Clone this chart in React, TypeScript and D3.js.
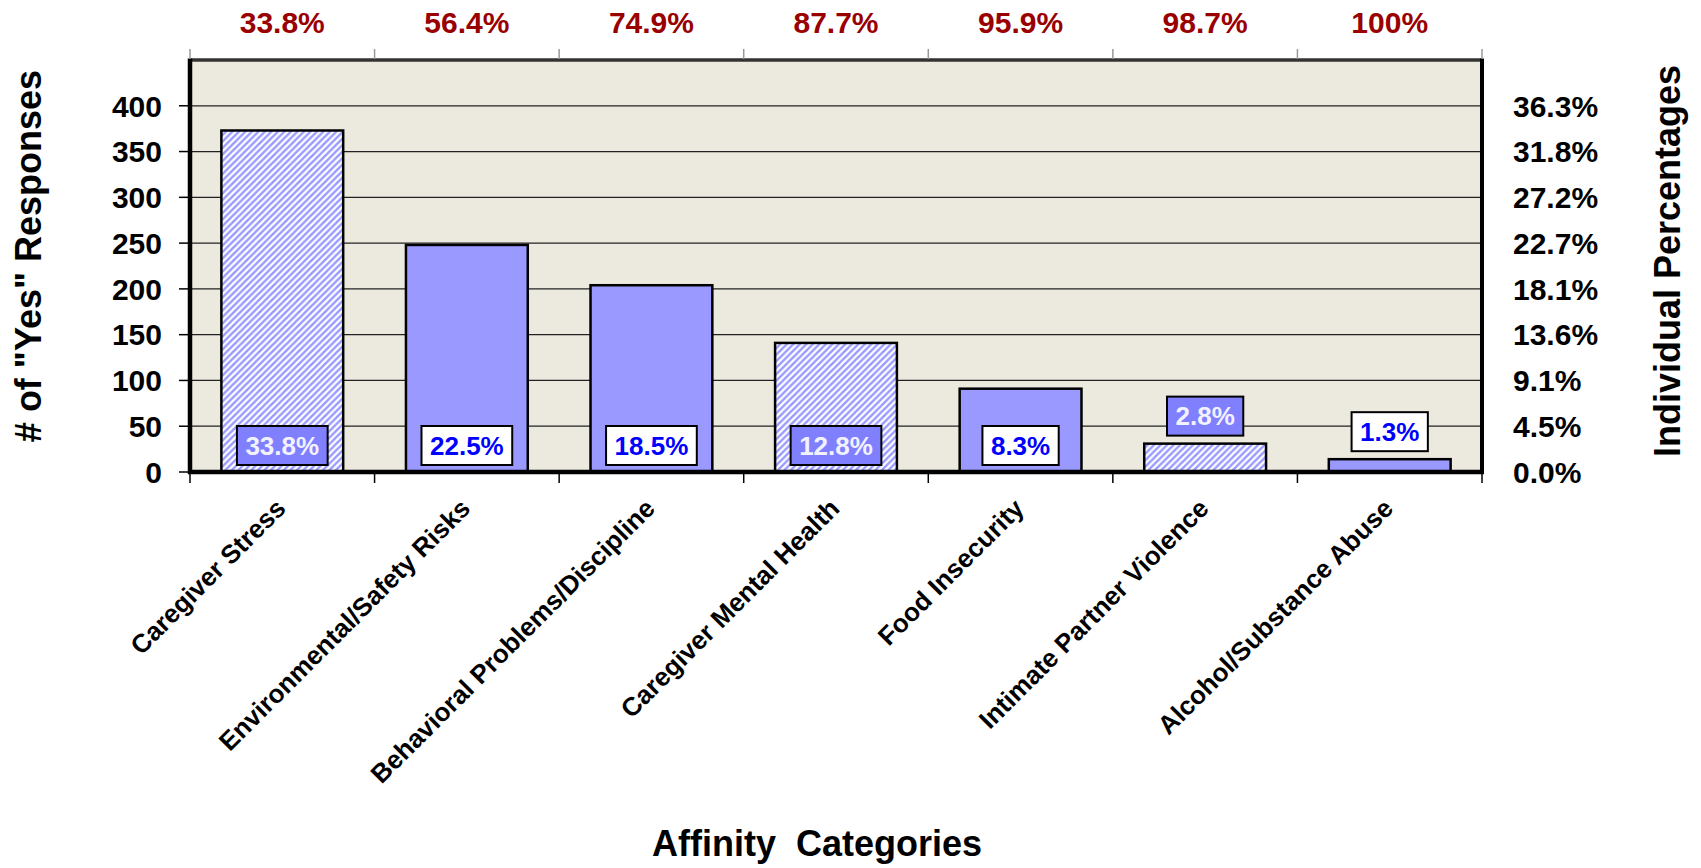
import React, { useEffect, useRef } from 'react';
import * as d3 from 'd3';

const categories = [
  'Caregiver Stress',
  'Environmental/Safety Risks',
  'Behavioral Problems/Discipline',
  'Caregiver Mental Health',
  'Food Insecurity',
  'Intimate Partner Violence',
  'Alcohol/Substance Abuse',
];
const counts = [373, 248, 204, 141, 91, 31, 14];
const shareLabels = ['33.8%', '22.5%', '18.5%', '12.8%', '8.3%', '2.8%', '1.3%'];
const cumulativeLabels = ['33.8%', '56.4%', '74.9%', '87.7%', '95.9%', '98.7%', '100%'];
const hatched = [true, false, false, true, false, true, false];
const countTicks = [0, 50, 100, 150, 200, 250, 300, 350, 400];
const shareTickLabels = ['0.0%', '4.5%', '9.1%', '13.6%', '18.1%', '22.7%', '27.2%', '31.8%', '36.3%'];

const W = 1701;
const H = 868;
const FONT = '"Liberation Sans", Arial, Helvetica, sans-serif';

const App: React.FC = () => {
  const svgRef = useRef<SVGSVGElement>(null);

  useEffect(() => {
    if (!svgRef.current) return;
    const svg = d3.select(svgRef.current);
    svg.selectAll('*').remove();

    const left = 190, right = 1482, top = 60, base = 472;

    const x = d3.scaleBand<string>()
      .domain(categories)
      .range([left, right])
      .paddingInner(0.34)
      .paddingOuter(0.17);
    const y = d3.scaleLinear().domain([0, 450]).range([base, top]);
    const step = x.step();
    const center = (c: string) => (x(c) ?? 0) + x.bandwidth() / 2;
    const bounds = [left, ...categories.map(c => center(c) + step / 2)];

    // hatch pattern
    const defs = svg.append('defs');
    const t = 6.5;
    const pat = defs.append('pattern')
      .attr('id', 'hatch')
      .attr('patternUnits', 'userSpaceOnUse')
      .attr('width', t)
      .attr('height', t);
    pat.append('rect').attr('width', t).attr('height', t).attr('fill', '#ffffff');
    pat.append('path')
      .attr('d', `M${-t / 4},${t / 4} L${t / 4},${-t / 4} M0,${t} L${t},0 M${t * 0.75},${t * 1.25} L${t * 1.25},${t * 0.75}`)
      .attr('stroke', '#9999ff')
      .attr('stroke-width', 2.4);

    // plot background
    svg.append('rect')
      .attr('x', left).attr('y', top)
      .attr('width', right - left).attr('height', base - top)
      .attr('fill', '#ece9df');

    // grid lines
    svg.append('g')
      .selectAll('line')
      .data(countTicks.filter(d => d > 0))
      .join('line')
      .attr('x1', left).attr('x2', right)
      .attr('y1', d => y(d)).attr('y2', d => y(d))
      .attr('stroke', '#222')
      .attr('stroke-width', 1.3);

    // bars
    svg.append('g')
      .selectAll('rect')
      .data(categories)
      .join('rect')
      .attr('x', d => x(d)!)
      .attr('y', (d, i) => y(counts[i]))
      .attr('width', x.bandwidth())
      .attr('height', (d, i) => base - y(counts[i]))
      .attr('fill', (d, i) => (hatched[i] ? 'url(#hatch)' : '#9999ff'))
      .attr('stroke', '#000')
      .attr('stroke-width', 2.5);

    // frame
    svg.append('line')
      .attr('x1', left).attr('x2', right).attr('y1', top).attr('y2', top)
      .attr('stroke', '#333').attr('stroke-width', 3.5);
    svg.append('line')
      .attr('x1', right).attr('x2', right).attr('y1', top - 1.5).attr('y2', base)
      .attr('stroke', '#000').attr('stroke-width', 4);
    svg.append('line')
      .attr('x1', left).attr('x2', left).attr('y1', top - 1.5).attr('y2', base + 2)
      .attr('stroke', '#000').attr('stroke-width', 4.5);
    svg.append('line')
      .attr('x1', left - 2).attr('x2', right + 2).attr('y1', base).attr('y2', base)
      .attr('stroke', '#000').attr('stroke-width', 4.5);

    // top ticks (gray) and bottom ticks
    bounds.forEach(b => {
      svg.append('line')
        .attr('x1', b).attr('x2', b).attr('y1', top - 11).attr('y2', top - 1)
        .attr('stroke', '#999').attr('stroke-width', 1.5);
      svg.append('line')
        .attr('x1', b).attr('x2', b).attr('y1', base).attr('y2', base + 11)
        .attr('stroke', '#000').attr('stroke-width', 1.5);
    });

    // left axis
    countTicks.forEach(v => {
      svg.append('line')
        .attr('x1', left - 11).attr('x2', left)
        .attr('y1', y(v)).attr('y2', y(v))
        .attr('stroke', '#000').attr('stroke-width', 1.5);
      svg.append('text')
        .attr('x', 162)
        .attr('y', y(v))
        .attr('dy', '0.36em')
        .attr('text-anchor', 'end')
        .attr('font-family', FONT)
        .attr('font-weight', 'bold')
        .attr('font-size', 30)
        .attr('fill', '#000')
        .text(String(v));
    });

    // right axis labels
    countTicks.forEach((v, i) => {
      svg.append('text')
        .attr('x', 1513)
        .attr('y', y(v))
        .attr('dy', '0.36em')
        .attr('text-anchor', 'start')
        .attr('font-family', FONT)
        .attr('font-weight', 'bold')
        .attr('font-size', 30)
        .attr('fill', '#000')
        .text(shareTickLabels[i]);
    });

    // cumulative labels on top
    categories.forEach((c, i) => {
      svg.append('text')
        .attr('x', center(c))
        .attr('y', 33)
        .attr('text-anchor', 'middle')
        .attr('font-family', FONT)
        .attr('font-weight', 'bold')
        .attr('font-size', 30)
        .attr('fill', '#990000')
        .text(cumulativeLabels[i]);
    });

    // value boxes: inside the bar foot, or above short bars
    const boxH = 39;
    categories.forEach((c, i) => {
      const dark = hatched[i];
      const g = svg.append('g');
      const barH = base - y(counts[i]);
      const boxBottom = barH >= boxH + 14 ? base - 7 : y(counts[i]) - 8;
      const txt = g.append('text')
        .attr('x', center(c))
        .attr('y', boxBottom - boxH / 2)
        .attr('dy', '0.36em')
        .attr('text-anchor', 'middle')
        .attr('font-family', FONT)
        .attr('font-weight', 'bold')
        .attr('font-size', 26)
        .attr('fill', dark ? '#f2f2ff' : '#0000ff')
        .text(shareLabels[i]);
      const tw = (txt.node() as SVGTextElement).getComputedTextLength();
      const bw = tw + 17;
      g.insert('rect', 'text')
        .attr('x', center(c) - bw / 2)
        .attr('y', boxBottom - boxH)
        .attr('width', bw)
        .attr('height', boxH)
        .attr('fill', dark ? '#8080ff' : '#ffffff')
        .attr('stroke', '#000')
        .attr('stroke-width', 2);
    });

    // category labels
    categories.forEach(c => {
      svg.append('text')
        .attr('transform', `translate(${center(c) + 5},${510}) rotate(-45)`)
        .attr('text-anchor', 'end')
        .attr('font-family', FONT)
        .attr('font-weight', 'bold')
        .attr('font-size', 26)
        .attr('fill', '#000')
        .text(c);
    });

    // axis titles
    svg.append('text')
      .attr('transform', `translate(41,${256}) rotate(-90)`)
      .attr('text-anchor', 'middle')
      .attr('font-family', FONT)
      .attr('font-weight', 'bold')
      .attr('font-size', 36)
      .text('# of "Yes" Responses');

    svg.append('text')
      .attr('transform', `translate(1680,${261}) rotate(-90)`)
      .attr('text-anchor', 'middle')
      .attr('font-family', FONT)
      .attr('font-weight', 'bold')
      .attr('font-size', 36)
      .text('Individual Percentages');

    svg.append('text')
      .attr('x', 817)
      .attr('y', 856)
      .attr('text-anchor', 'middle')
      .attr('font-family', FONT)
      .attr('font-weight', 'bold')
      .attr('font-size', 36)
      .attr('xml:space', 'preserve')
      .style('white-space', 'pre')
      .text('Affinity  Categories');
  }, []);

  return (
    <div style={{ position: 'absolute', left: 0, top: 0, width: W, height: H, background: '#fff' }}>
      <svg ref={svgRef} width={W} height={H} style={{ display: 'block' }} />
    </div>
  );
};

export default App;
